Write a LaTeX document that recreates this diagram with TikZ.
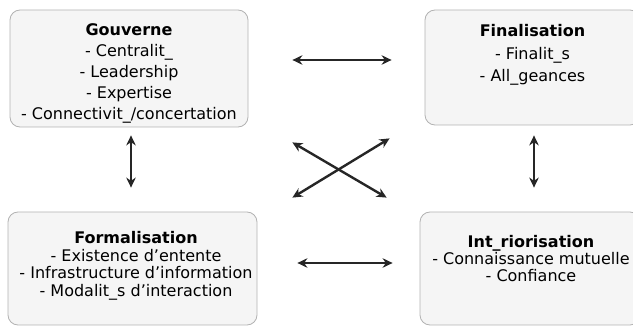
\documentclass[tikz,border=0pt]{standalone}
\usepackage{fontspec}
\setmainfont{DejaVu Sans}
\usetikzlibrary{arrows.meta}

\begin{document}
\begin{tikzpicture}[x=1pt, y=-1pt,
    box/.style={draw=black!30, fill=black!4, rounded corners=10pt, line width=0.8pt, inner sep=0pt},
    boxtext/.style={anchor=north, align=center, inner sep=0pt, font=\fontsize{16}{#1}\selectfont},
    biarrow/.style={line width=2.8pt, black!85, {Stealth[length=10pt,width=9.5pt]}-{Stealth[length=10pt,width=9.5pt]}}]
    \clip (0,0) rectangle (633,326);

    % the four boxes
    \node[box, minimum width=238pt, minimum height=117pt] (gov) at (129,68.5) {};
    \node[box, minimum width=215pt, minimum height=115pt] (fin) at (532.5,67.5) {};
    \node[box, minimum width=249pt, minimum height=113pt] (form) at (132.5,268.5) {};
    \node[box, minimum width=220pt, minimum height=113pt] (int) at (530,268.5) {};

    % their texts
    \node[boxtext=21pt] (gov-txt) at ([yshift=-14pt]gov.north)
      {\textbf{Gouverne}\\- Centralit\_\\- Leadership\\- Expertise\\- Connectivit\_/concertation};
    \node[boxtext=22.5pt] (fin-txt) at ([yshift=-15pt]fin.north)
      {\textbf{Finalisation}\\- Finalit\_s\\- All\_geances};
    \node[boxtext=17.5pt] (form-txt) at ([shift={(3.5pt,-20pt)}]form.north)
      {\textbf{Formalisation}\\- Existence d'entente\\- Infrastructure d'information\\- Modalit\_s d'interaction};
    \node[boxtext=17pt] (int-txt) at ([shift={(1pt,-24pt)}]int.north)
      {\textbf{Int\_riorisation}\\- Connaissance mutuelle\\- Confiance};

    % links
    \draw[biarrow, shorten <=44pt, shorten >=33pt] ([yshift=8.5pt]gov.east) -- ([yshift=7.5pt]fin.west);
    \draw[biarrow, shorten <=40pt, shorten >=27pt] ([yshift=5.5pt]form.east) -- ([yshift=5.5pt]int.west);
    \draw[biarrow, shorten <=8pt, shorten >=24pt] ([xshift=2pt]gov.south) -- ([xshift=-1.5pt]form.north);
    \draw[biarrow, shorten <=10pt, shorten >=24pt] ([xshift=1.5pt]fin.south) -- ([xshift=4pt]int.north);
    \draw[biarrow, line width=2.4pt] ([shift={(44pt,-15pt)}]gov.south east) -- ([shift={(-33pt,14pt)}]int.north west);
    \draw[biarrow, line width=2.4pt] ([shift={(35pt,14pt)}]form.north east) -- ([shift={(-35pt,-13pt)}]fin.south west);
\end{tikzpicture}
\end{document}
